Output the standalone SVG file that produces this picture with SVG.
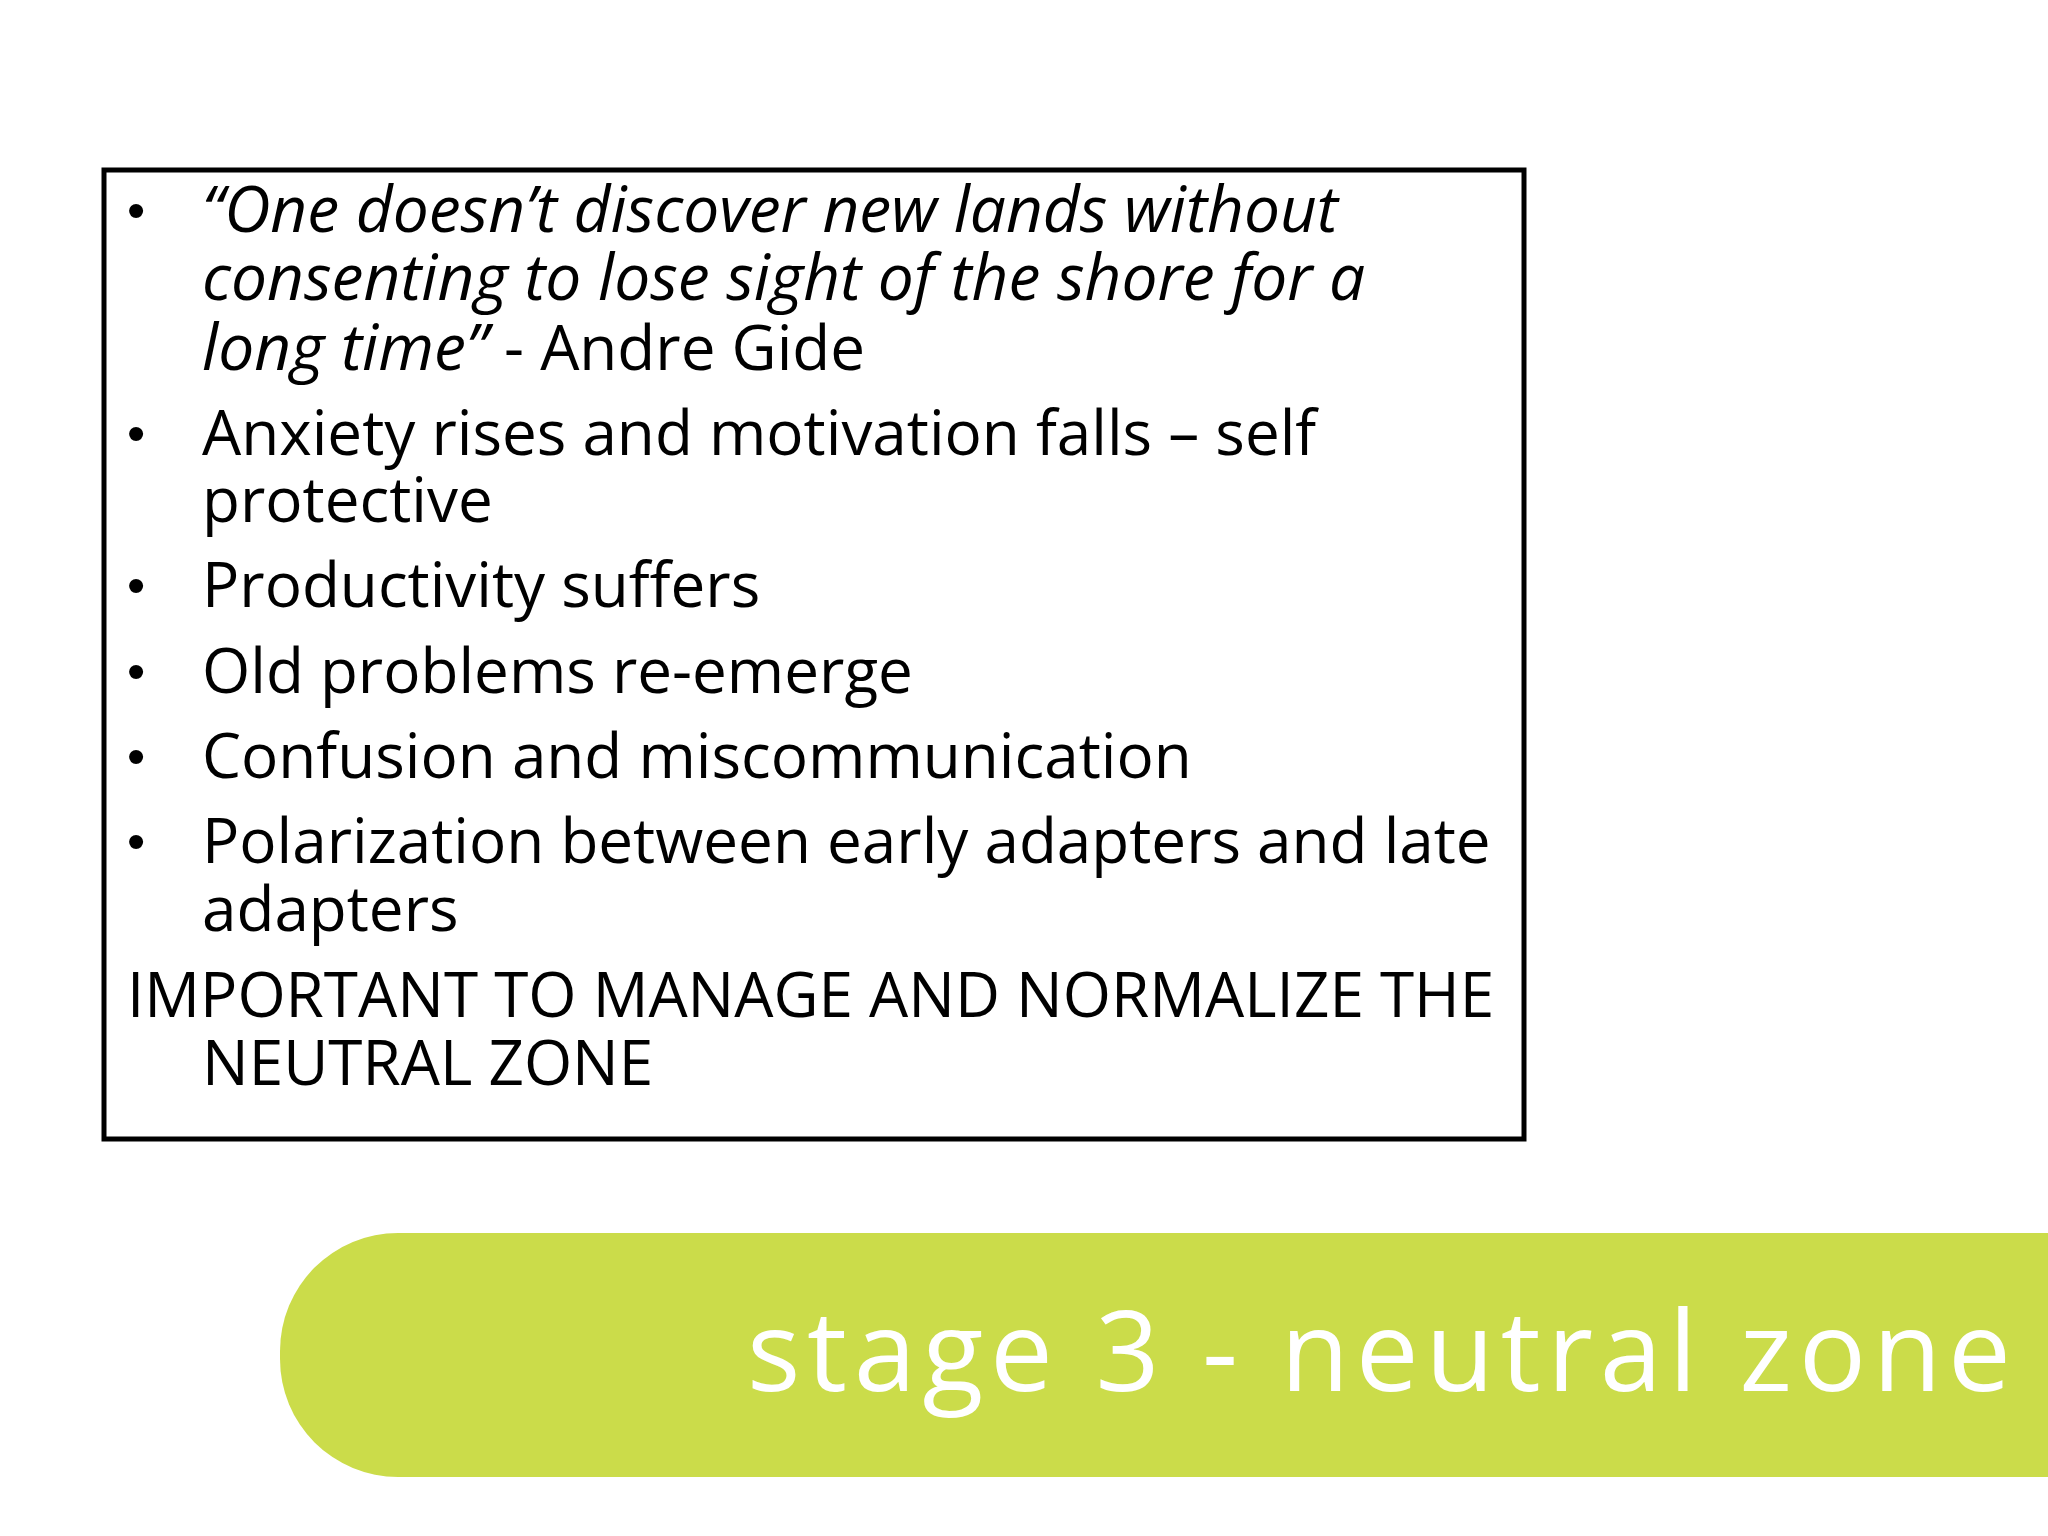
<svg xmlns="http://www.w3.org/2000/svg" width="2048" height="1536" viewBox="0 0 2048 1536">
<style>
.t{font-family:"Open Sans","Noto Sans",sans-serif;font-size:62px;fill:#000}
.i{font-style:italic;font-size:64px}
.b{font-family:"Liberation Sans",sans-serif;font-size:52px;fill:#000}
</style>
<rect width="2048" height="1536" fill="#fff"/>
<g id="box">
<rect x="104" y="170" width="1420" height="969" fill="#fff" stroke="#000" stroke-width="5"/>
<text class="b" x="127" y="228">•</text>
<text class="t i" x="202" y="232">“One doesn’t discover new lands without</text>
<text class="t i" x="202" y="300">consenting to lose sight of the shore for a</text>
<text class="t" x="202" y="370"><tspan class="i">long time”</tspan>  - Andre Gide</text>
<text class="b" x="127" y="451">•</text>
<text class="t" x="202" y="455">Anxiety rises and motivation falls – self</text>
<text class="t" x="202" y="522">protective</text>
<text class="b" x="127" y="603">•</text>
<text class="t" x="202" y="607">Productivity suffers</text>
<text class="b" x="127" y="689">•</text>
<text class="t" x="202" y="693">Old problems re-emerge</text>
<text class="b" x="127" y="774">•</text>
<text class="t" x="202" y="778">Confusion and miscommunication</text>
<text class="b" x="127" y="859">•</text>
<text class="t" x="202" y="863">Polarization between early adapters and late</text>
<text class="t" x="202" y="931">adapters</text>
<text class="t" x="127" y="1017">IMPORTANT TO MANAGE AND NORMALIZE THE</text>
<text class="t" x="202" y="1085">NEUTRAL ZONE</text>
</g>
<g id="banner">
<path d="M398 1233 H2048 V1477 H398 A118 118 0 0 1 280 1359 V1351 A118 118 0 0 1 398 1233 Z" fill="#CBDC4A"/>
<text x="747" y="1391" font-family="Open Sans, sans-serif" font-size="112" fill="#fff" textLength="1264" lengthAdjust="spacing">stage 3 - neutral zone</text>
</g>
</svg>
